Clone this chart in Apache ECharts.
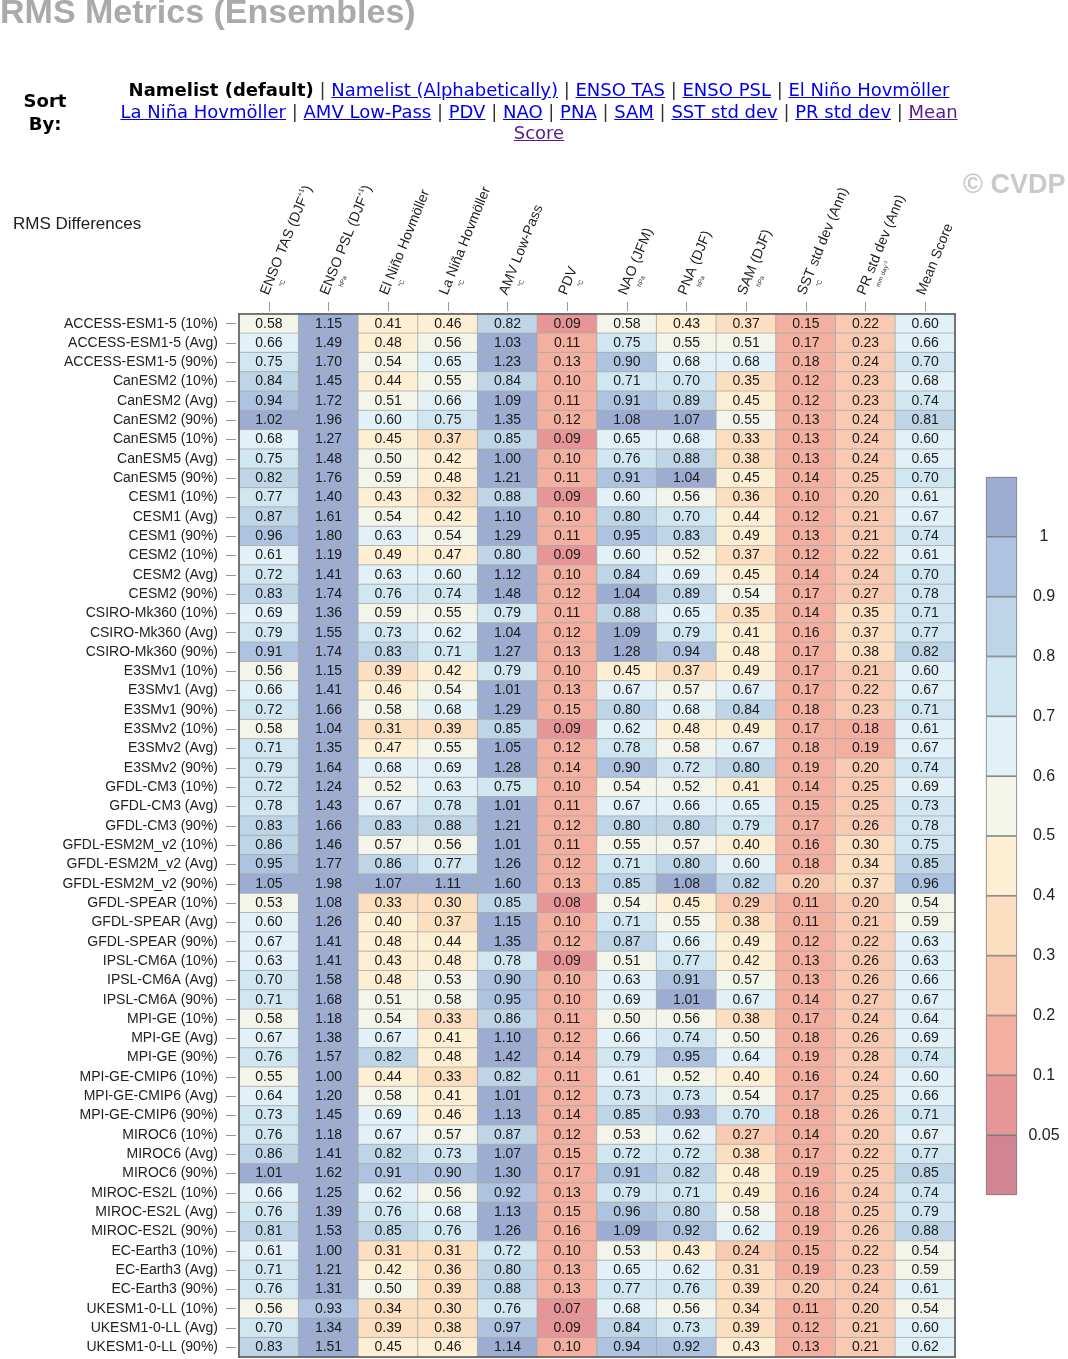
<!DOCTYPE html>
<html><head><meta charset="utf-8">
<script src="https://cdn.jsdelivr.net/npm/echarts@6/dist/echarts.min.js"></script>
<style>
html,body{margin:0;padding:0;background:#fff;width:1068px;height:1359px;overflow:hidden;}
#chart{position:absolute;left:0;top:0;width:1068px;height:1359px;}
#title{position:absolute;left:0;top:-5px;font:bold 34px 'Liberation Sans',Arial,sans-serif;color:#aaaaaa;line-height:33px;white-space:nowrap;z-index:2;}
#sortby{position:absolute;left:0;width:90px;top:89px;text-align:center;font:bold 18px 'DejaVu Sans',Verdana,sans-serif;line-height:23px;color:#000;z-index:2;}
#links{position:absolute;left:90px;width:898px;top:79px;text-align:center;font:18px 'DejaVu Sans',Verdana,sans-serif;line-height:21.5px;color:#333;z-index:2;white-space:nowrap;}
#links b{color:#000;}
#links a{color:#0000ee;text-decoration:underline;}
#links a.v{color:#551a8b;}
</style></head>
<body>
<div id="chart"></div>
<div id="title">RMS Metrics (Ensembles)</div>
<div id="sortby">Sort<br>By:</div>
<div id="links"><b>Namelist (default)</b> | <a href="#">Namelist (Alphabetically)</a> | <a href="#">ENSO TAS</a> | <a href="#">ENSO PSL</a> | <a href="#">El Niño Hovmöller</a><br><a href="#">La Niña Hovmöller</a> | <a href="#">AMV Low-Pass</a> | <a href="#">PDV</a> | <a href="#">NAO</a> | <a href="#">PNA</a> | <a href="#">SAM</a> | <a href="#">SST std dev</a> | <a href="#">PR std dev</a> | <a class="v" href="#">Mean</a><br><a class="v" href="#">Score</a></div>
<script>
// ---------------- DATA ----------------
const metricNames = ['ENSO TAS','ENSO PSL','El Niño Hovmöller','La Niña Hovmöller','AMV Low-Pass','PDV','NAO','PNA','SAM','SST std dev','PR std dev','Mean Score'];
const metricSeasons = ['(DJF+1)','(DJF+1)','','','','','(JFM)','(DJF)','(DJF)','(Ann)','(Ann)',''];
const metricUnits = ['°C','hPa','°C','°C','°C','°C','hPa','hPa','hPa','°C','mm day-1',''];

const models = ['ACCESS-ESM1-5','CanESM2','CanESM5','CESM1','CESM2','CSIRO-Mk360','E3SMv1','E3SMv2','GFDL-CM3','GFDL-ESM2M_v2','GFDL-SPEAR','IPSL-CM6A','MPI-GE','MPI-GE-CMIP6','MIROC6','MIROC-ES2L','EC-Earth3','UKESM1-0-LL'];
const members = ['(10%)','(Avg)','(90%)'];

const ensoTas = [0.58,0.66,0.75,0.84,0.94,1.02,0.68,0.75,0.82,0.77,0.87,0.96,0.61,0.72,0.83,0.69,0.79,0.91,0.56,0.66,0.72,0.58,0.71,0.79,0.72,0.78,0.83,0.86,0.95,1.05,0.53,0.60,0.67,0.63,0.70,0.71,0.58,0.67,0.76,0.55,0.64,0.73,0.76,0.86,1.01,0.66,0.76,0.81,0.61,0.71,0.76,0.56,0.70,0.83];
const ensoPsl = [1.15,1.49,1.70,1.45,1.72,1.96,1.27,1.48,1.76,1.40,1.61,1.80,1.19,1.41,1.74,1.36,1.55,1.74,1.15,1.41,1.66,1.04,1.35,1.64,1.24,1.43,1.66,1.46,1.77,1.98,1.08,1.26,1.41,1.41,1.58,1.68,1.18,1.38,1.57,1.00,1.20,1.45,1.18,1.41,1.62,1.25,1.39,1.53,1.00,1.21,1.31,0.93,1.34,1.51];
const elNino = [0.41,0.48,0.54,0.44,0.51,0.60,0.45,0.50,0.59,0.43,0.54,0.63,0.49,0.63,0.76,0.59,0.73,0.83,0.39,0.46,0.58,0.31,0.47,0.68,0.52,0.67,0.83,0.57,0.86,1.07,0.33,0.40,0.48,0.43,0.48,0.51,0.54,0.67,0.82,0.44,0.58,0.69,0.67,0.82,0.91,0.62,0.76,0.85,0.31,0.42,0.50,0.34,0.39,0.45];
const laNina = [0.46,0.56,0.65,0.55,0.66,0.75,0.37,0.42,0.48,0.32,0.42,0.54,0.47,0.60,0.74,0.55,0.62,0.71,0.42,0.54,0.68,0.39,0.55,0.69,0.63,0.78,0.88,0.56,0.77,1.11,0.30,0.37,0.44,0.48,0.53,0.58,0.33,0.41,0.48,0.33,0.41,0.46,0.57,0.73,0.90,0.56,0.68,0.76,0.31,0.36,0.39,0.30,0.38,0.46];
const amv = [0.82,1.03,1.23,0.84,1.09,1.35,0.85,1.00,1.21,0.88,1.10,1.29,0.80,1.12,1.48,0.79,1.04,1.27,0.79,1.01,1.29,0.85,1.05,1.28,0.75,1.01,1.21,1.01,1.26,1.60,0.85,1.15,1.35,0.78,0.90,0.95,0.86,1.10,1.42,0.82,1.01,1.13,0.87,1.07,1.30,0.92,1.13,1.26,0.72,0.80,0.88,0.76,0.97,1.14];
const pdv = [0.09,0.11,0.13,0.10,0.11,0.12,0.09,0.10,0.11,0.09,0.10,0.11,0.09,0.10,0.12,0.11,0.12,0.13,0.10,0.13,0.15,0.09,0.12,0.14,0.10,0.11,0.12,0.11,0.12,0.13,0.08,0.10,0.12,0.09,0.10,0.10,0.11,0.12,0.14,0.11,0.12,0.14,0.12,0.15,0.17,0.13,0.15,0.16,0.10,0.13,0.13,0.07,0.09,0.10];
const nao = [0.58,0.75,0.90,0.71,0.91,1.08,0.65,0.76,0.91,0.60,0.80,0.95,0.60,0.84,1.04,0.88,1.09,1.28,0.45,0.67,0.80,0.62,0.78,0.90,0.54,0.67,0.80,0.55,0.71,0.85,0.54,0.71,0.87,0.51,0.63,0.69,0.50,0.66,0.79,0.61,0.73,0.85,0.53,0.72,0.91,0.79,0.96,1.09,0.53,0.65,0.77,0.68,0.84,0.94];
const pna = [0.43,0.55,0.68,0.70,0.89,1.07,0.68,0.88,1.04,0.56,0.70,0.83,0.52,0.69,0.89,0.65,0.79,0.94,0.37,0.57,0.68,0.48,0.58,0.72,0.52,0.66,0.80,0.57,0.80,1.08,0.45,0.55,0.66,0.77,0.91,1.01,0.56,0.74,0.95,0.52,0.73,0.93,0.62,0.72,0.82,0.71,0.80,0.92,0.43,0.62,0.76,0.56,0.73,0.92];
const sam = [0.37,0.51,0.68,0.35,0.45,0.55,0.33,0.38,0.45,0.36,0.44,0.49,0.37,0.45,0.54,0.35,0.41,0.48,0.49,0.67,0.84,0.49,0.67,0.80,0.41,0.65,0.79,0.40,0.60,0.82,0.29,0.38,0.49,0.42,0.57,0.67,0.38,0.50,0.64,0.40,0.54,0.70,0.27,0.38,0.48,0.49,0.58,0.62,0.24,0.31,0.39,0.34,0.39,0.43];
const sstStd = [0.15,0.17,0.18,0.12,0.12,0.13,0.13,0.13,0.14,0.10,0.12,0.13,0.12,0.14,0.17,0.14,0.16,0.17,0.17,0.17,0.18,0.17,0.18,0.19,0.14,0.15,0.17,0.16,0.18,0.20,0.11,0.11,0.12,0.13,0.13,0.14,0.17,0.18,0.19,0.16,0.17,0.18,0.14,0.17,0.19,0.16,0.18,0.19,0.15,0.19,0.20,0.11,0.12,0.13];
const prStd = [0.22,0.23,0.24,0.23,0.23,0.24,0.24,0.24,0.25,0.20,0.21,0.21,0.22,0.24,0.27,0.35,0.37,0.38,0.21,0.22,0.23,0.18,0.19,0.20,0.25,0.25,0.26,0.30,0.34,0.37,0.20,0.21,0.22,0.26,0.26,0.27,0.24,0.26,0.28,0.24,0.25,0.26,0.20,0.22,0.25,0.24,0.25,0.26,0.22,0.23,0.24,0.20,0.21,0.21];
const meanScore = [0.60,0.66,0.70,0.68,0.74,0.81,0.60,0.65,0.70,0.61,0.67,0.74,0.61,0.70,0.78,0.71,0.77,0.82,0.60,0.67,0.71,0.61,0.67,0.74,0.69,0.73,0.78,0.75,0.85,0.96,0.54,0.59,0.63,0.63,0.66,0.67,0.64,0.69,0.74,0.60,0.66,0.71,0.67,0.77,0.85,0.74,0.79,0.88,0.54,0.59,0.61,0.54,0.60,0.62];

const binEdges = [0.05,0.1,0.2,0.3,0.4,0.5,0.6,0.7,0.8,0.9,1];
const binColors = ['#d08494','#e69696','#f3b0a1','#f8cab1','#fbdfc0','#fcefd3','#f3f5ea','#e2f1f7','#d0e6f1','#bed5e7','#adc3df','#9cadd1'];
const binHeights = [1,1,1,1,1,1,1,1,1,1,1,1];

// ---------------- BUILD ----------------
const columns = [ensoTas, ensoPsl, elNino, laNina, amv, pdv, nao, pna, sam, sstStd, prStd, meanScore];
const rowLabels = [];
models.forEach(m => members.forEach(s => rowLabels.push(m + ' ' + s)));
const cells = [];
columns.forEach((col, ci) => col.forEach((v, ri) => cells.push([ci, ri, v])));

const pieces = binColors.map((c, i) => {
  if (i === 0) return {lt: binEdges[0], color: c};
  if (i === binColors.length - 1) return {gte: binEdges[i - 1], color: c};
  return {gte: binEdges[i - 1], lt: binEdges[i], color: c};
});

function supSplit(str, key) {
  const m = str.match(/^(.*?)([+-]1)(.*)$/);
  if (!m) return str ? '{' + key + '|' + str + '}' : '';
  let out = '{' + key + '|' + m[1] + '}{' + (key === 'm' ? 's' : 'us') + '|' + m[2] + '}';
  if (m[3]) out += '{' + key + '|' + m[3] + '}';
  return out;
}
const xLabels = metricNames.map((n, i) => n + (metricSeasons[i] ? ' ' + metricSeasons[i] : ''));

const FONT = "'Liberation Sans', Arial, Helvetica, sans-serif";
const chart = echarts.init(document.getElementById('chart'), null, {renderer: 'canvas'});

const series = [{
  type: 'heatmap', xAxisIndex: 0, yAxisIndex: 0, data: cells,
  itemStyle: {borderColor: '#a9a9a9', borderWidth: 0.8},
  label: {show: true, fontFamily: FONT, fontSize: 14, color: '#1a1a1a',
    formatter: p => p.value[2].toFixed(2)},
  emphasis: {disabled: true}, z: 2
}];
binHeights.forEach((h, i) => series.push({
  type: 'bar', xAxisIndex: 3, yAxisIndex: 3, stack: 'cb', data: [h],
  barWidth: '100%', silent: true,
  itemStyle: {color: binColors[i], borderColor: '#666', borderWidth: 0.7}
}));

chart.setOption({
  animation: false,
  backgroundColor: 'transparent',
  title: [
    {text: 'RMS Differences', left: 13, top: 216, padding: 0, textStyle: {fontFamily: FONT, fontSize: 17, fontWeight: 'normal', color: '#222'}},
    {text: '© CVDP', left: 963, top: 172, padding: 0, textStyle: {fontFamily: FONT, fontSize: 27, fontWeight: 'bold', color: '#c9c9c9'}}
  ],
  grid: [{left: 239, top: 314, width: 716, height: 1043}, {left: 986, top: 477, width: 31, height: 718}],
  visualMap: {type: 'piecewise', show: false, seriesIndex: 0, dimension: 2, pieces: pieces},
  xAxis: [
    {type: 'category', gridIndex: 0, data: xLabels, position: 'top', offset: 3,
      axisLine: {show: false}, axisTick: {show: true, alignWithLabel: true, length: 9, lineStyle: {color: '#999'}},
      axisLabel: {interval: 0, rotate: -68, margin: 15, color: '#222',
        formatter: (v, i) => {
          const main = supSplit(metricNames[i] + (metricSeasons[i] ? ' ' + metricSeasons[i] : ''), 'm');
          const unit = metricUnits[i] ? supSplit(metricUnits[i], 'u') : '{u| }';
          return main + '\n' + unit;
        },
        rich: {
          m: {fontFamily: FONT, fontSize: 14, color: '#222', lineHeight: 16},
          s: {fontFamily: FONT, fontSize: 7, color: '#222', lineHeight: 16, verticalAlign: 'top'},
          u: {fontFamily: FONT, fontSize: 6.5, color: '#333', lineHeight: 9, padding: [0, 0, 0, 13]},
          us: {fontFamily: FONT, fontSize: 5, color: '#333', lineHeight: 9, verticalAlign: 'top'}
        }},
      splitLine: {show: false}},
    {type: 'category', gridIndex: 0, data: xLabels, position: 'top', z: 6,
      axisLine: {show: true, lineStyle: {color: '#555', width: 1.5}}, axisTick: {show: false}, axisLabel: {show: false}},
    {type: 'category', gridIndex: 0, data: xLabels, position: 'bottom', z: 6,
      axisLine: {show: true, lineStyle: {color: '#555', width: 1.5}}, axisTick: {show: false}, axisLabel: {show: false}},
    {type: 'category', gridIndex: 1, data: [''], show: false}
  ],
  yAxis: [
    {type: 'category', gridIndex: 0, data: rowLabels, inverse: true, position: 'left', offset: 3,
      axisLine: {show: false}, axisTick: {show: true, alignWithLabel: true, length: 10, lineStyle: {color: '#999'}},
      axisLabel: {interval: 0, margin: 18, fontFamily: FONT, fontSize: 14, color: '#222'},
      splitLine: {show: false}},
    {type: 'category', gridIndex: 0, data: rowLabels, inverse: true, position: 'left', z: 6,
      axisLine: {show: true, lineStyle: {color: '#555', width: 1.5}}, axisTick: {show: false}, axisLabel: {show: false}},
    {type: 'category', gridIndex: 0, data: rowLabels, inverse: true, position: 'right', z: 6,
      axisLine: {show: true, lineStyle: {color: '#555', width: 1.5}}, axisTick: {show: false}, axisLabel: {show: false}},
    {type: 'value', gridIndex: 1, min: 0, max: 12, interval: 1, position: 'right',
      axisLine: {show: false}, axisTick: {show: false}, splitLine: {show: false},
      axisLabel: {margin: 27, align: 'center', fontFamily: FONT, fontSize: 16, color: '#222',
        formatter: v => (v >= 1 && v <= binEdges.length) ? String(binEdges[v - 1]) : ''}}
  ],
  series: series
});
</script>
</body></html>
